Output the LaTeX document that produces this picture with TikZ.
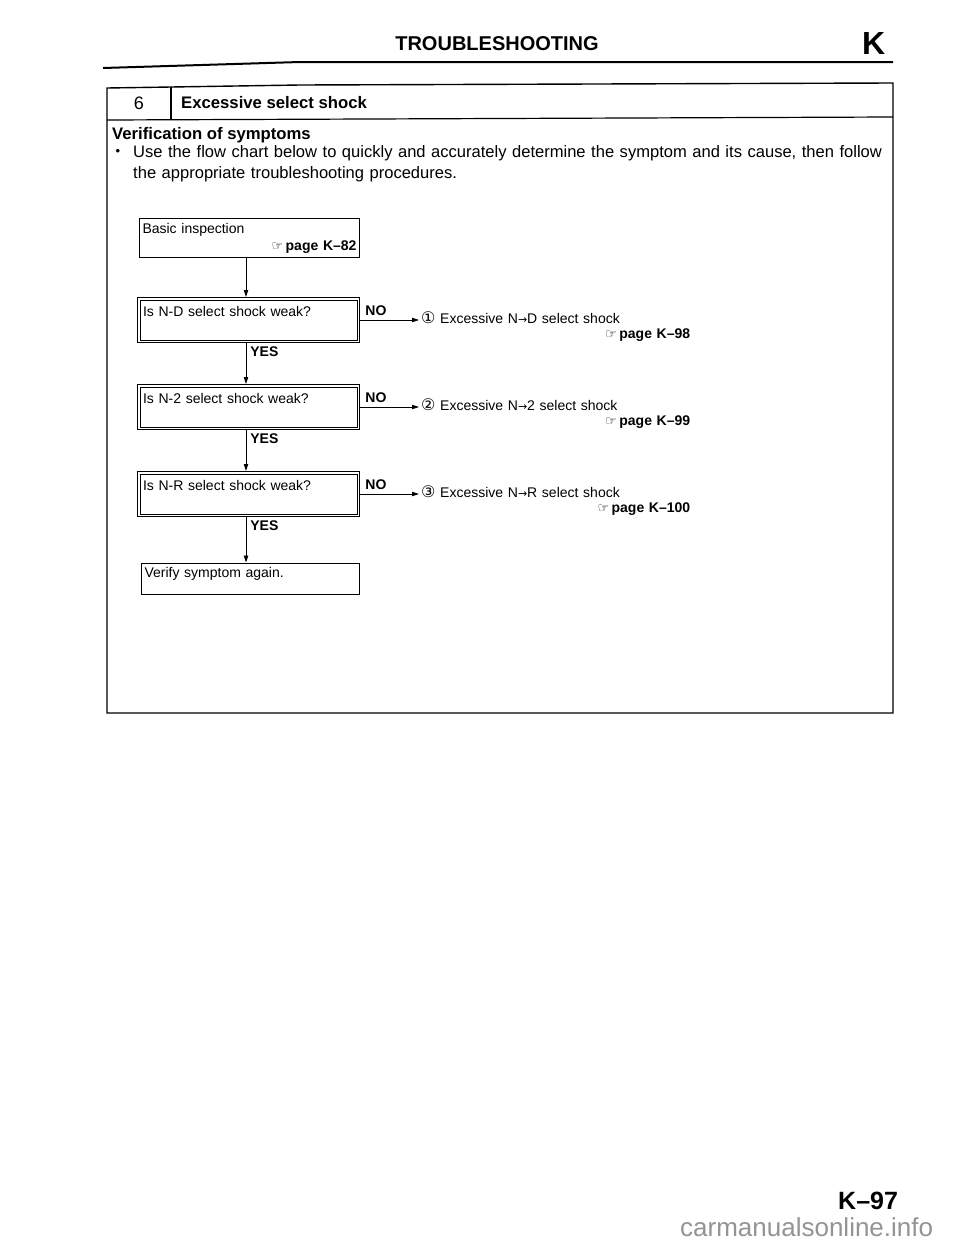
\documentclass[tikz,border=0pt]{standalone}
\usepackage{fontspec}
\setmainfont{Liberation Sans}
\newfontfamily\symfont{DejaVu Sans}
\usetikzlibrary{positioning,arrows.meta}
\newcommand{\fsz}[2]{\fontsize{#1}{#2}\selectfont}
\newcommand{\seepage}[1]{{\symfont\fsz{13}{13}☞}\,\textbf{page #1}}
\newcommand{\cnum}[1]{{\symfont\fsz{16}{16}#1}}
\newcommand{\toarrow}{{\symfont\fsz{11}{11}→}}
\tikzset{
  flowarrow/.style={-{Triangle[length=7pt,width=4.4pt]}, line width=0.8pt},
  plainbox/.style={draw, line width=0.9pt, inner xsep=3pt, inner ysep=0pt, align=left, font=\fsz{14}{17}},
  qbox/.style={draw, line width=0.8pt, inner xsep=5.6pt, inner ysep=0pt,
    text width=211pt, text height=18.6pt, text depth=26.6pt, align=left, font=\fsz{14}{17}},
  result/.style={anchor=base west, text width=269pt, inner sep=0pt, align=left, font=\fsz{14}{15}},
  nolbl/.style={font=\bfseries\fsz{14}{14}, anchor=south west, inner xsep=5pt, inner ysep=4pt},
  yeslbl/.style={font=\bfseries\fsz{14}{14}, anchor=north west, inner xsep=4pt, inner ysep=3.5pt}
}
\begin{document}
\begin{tikzpicture}[x=1pt, y=-1pt]
  \fill[white] (0,0) rectangle (960,1242);
  \useasboundingbox (0,0) rectangle (960,1242);
  % page head
  \node[font=\bfseries\fsz{20}{20}, anchor=base] (title) at (497,50) {TROUBLESHOOTING};
  \node[font=\bfseries\fsz{32}{32}, anchor=base west, inner sep=0pt] (sect) at (862,54) {K};
  \draw[line width=2pt] (103,68) -- (300,62) -- (893,62);
  % frame
  \draw[line width=1.4pt] (107,88) -- (300,85) -- (893,83) -- (893,713) -- (107,713) -- cycle;
  \draw[line width=1.2pt] (171,87) -- (171,119);
  \draw[line width=1.2pt] (107,120) -- (893,117);
  \node[font=\fsz{18}{18}, anchor=base] (secnum) at (139,109) {6};
  \node[font=\bfseries\fsz{16.7}{16.7}, anchor=base west, inner sep=0pt] (sectitle) at (181,108) {Excessive select shock};
  \node[font=\bfseries\fsz{16.7}{16.7}, anchor=base west, inner sep=0pt] (verif) at (112,139) {Verification of symptoms};
  \node[font=\fsz{13}{13}, inner sep=0pt] (bullet) at (118,152) {•};
  \node[font=\fsz{16.55}{21}, anchor=base west, inner sep=0pt, text width=800pt, align=left] (intro) at (133,157)
    {Use the flow chart below to quickly and accurately determine the symptom and its cause, then follow\\
     the appropriate troubleshooting procedures.};
  % flow chart
  \coordinate (spine) at (246,0);
  \node[plainbox, text width=214pt, text height=15pt, text depth=24pt] (basic) at (249.5,237.5)
    {Basic inspection\\\mbox{}\hfill\seepage{K--82}};
  \node[qbox] (q1) at (248.5,320) {Is N-D select shock weak?};
  \node[qbox] (q2) at (248.5,407) {Is N-2 select shock weak?};
  \node[qbox] (q3) at (248.5,494) {Is N-R select shock weak?};
  \foreach \q in {q1,q2,q3}
    \draw[line width=0.8pt] ([shift={(3pt,-3pt)}]\q.north west) rectangle ([shift={(-3pt,3pt)}]\q.south east);
  \node[plainbox, text width=212pt, text height=14pt, text depth=17pt] (verify) at (250.5,578.5) {Verify symptom again.};
  \node[result] (r1) at (421,323) {\cnum{①} Excessive N\toarrow D select shock\\\mbox{}\hfill\seepage{K--98}};
  \node[result] (r2) at (421,410) {\cnum{②} Excessive N\toarrow 2 select shock\\\mbox{}\hfill\seepage{K--99}};
  \node[result] (r3) at (421,497) {\cnum{③} Excessive N\toarrow R select shock\\\mbox{}\hfill\seepage{K--100}};
  \draw[flowarrow] (basic.south -| spine) -- (q1.north -| spine);
  \draw[flowarrow] (q1.south -| spine) -- node[yeslbl, pos=0] {YES} (q2.north -| spine);
  \draw[flowarrow] (q2.south -| spine) -- node[yeslbl, pos=0] {YES} (q3.north -| spine);
  \draw[flowarrow] (q3.south -| spine) -- node[yeslbl, pos=0] {YES} (verify.north -| spine);
  \draw[flowarrow, shorten >=2pt] (q1.east) -- node[nolbl, pos=0] {NO} (r1.west |- q1.east);
  \draw[flowarrow, shorten >=2pt] (q2.east) -- node[nolbl, pos=0] {NO} (r2.west |- q2.east);
  \draw[flowarrow, shorten >=2pt] (q3.east) -- node[nolbl, pos=0] {NO} (r3.west |- q3.east);
  % page foot
  \node[font=\bfseries\fsz{25}{25}, anchor=base west, inner sep=0pt] (pagenum) at (838,1209) {K--97};
  \node[font=\fsz{26}{26}, text=black!42, anchor=base west, inner sep=0pt] (mark) at (680,1236) {carmanualsonline.info};
\end{tikzpicture}
\end{document}
